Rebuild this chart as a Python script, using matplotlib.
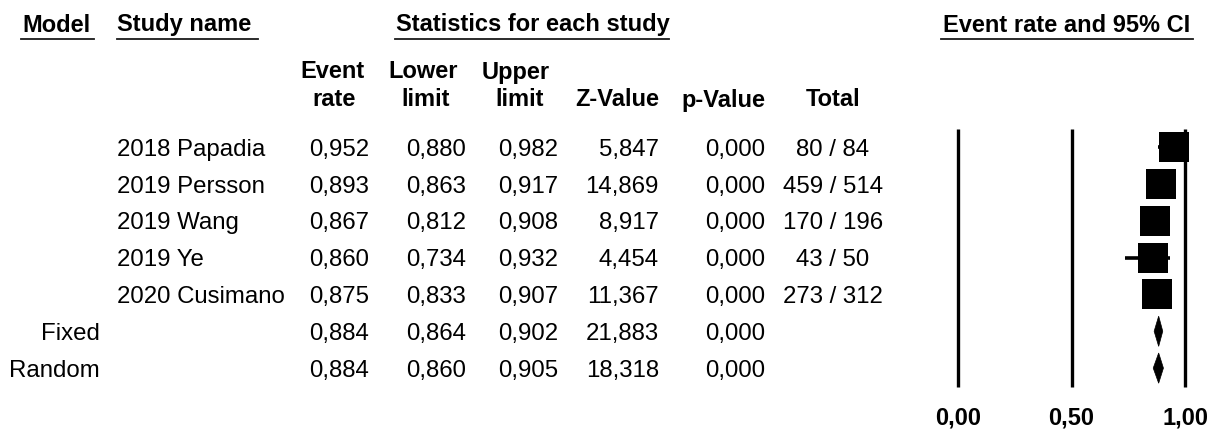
import matplotlib.pyplot as plt
from matplotlib.lines import Line2D
from matplotlib.patches import Polygon
from matplotlib.transforms import blended_transform_factory

plt.rcParams["font.family"] = ["Liberation Sans", "DejaVu Sans"]

# study level data
studies = ["2018 Papadia", "2019 Persson", "2019 Wang", "2019 Ye", "2020 Cusimano"]
event_rate = [0.952, 0.893, 0.867, 0.860, 0.875]
lower_limit = [0.880, 0.863, 0.812, 0.734, 0.833]
upper_limit = [0.982, 0.917, 0.908, 0.932, 0.907]
z_value = [5.847, 14.869, 8.917, 4.454, 11.367]
p_value = [0.000, 0.000, 0.000, 0.000, 0.000]
events = [80, 459, 170, 43, 273]
totals = [84, 514, 196, 50, 312]

# pooled estimates
models = ["Fixed", "Random"]
pooled_rate = [0.884, 0.884]
pooled_lower = [0.864, 0.860]
pooled_upper = [0.902, 0.905]
pooled_z = [21.883, 18.318]
pooled_p = [0.000, 0.000]

x_ticks = [0.0, 0.5, 1.0]

W, H = 1220, 430
FS = 17.3
FS_BOLD = 17.0
ROW0, ROW_STEP = 147.0, 36.85


def fx(x):
    return x / W


def fy(y):
    return 1 - y / H


def fmt(v, nd=3):
    return f"{v:.{nd}f}".replace(".", ",")


fig = plt.figure(figsize=(W / 100, H / 100), dpi=100)
fig.patch.set_facecolor("white")


def put(x, y, s, ha="left", bold=False):
    fig.text(fx(x), fy(y), s, ha=ha, va="baseline",
             fontsize=FS_BOLD if bold else FS,
             fontweight="bold" if bold else "normal", color="black")


def underline(x0, x1, y):
    fig.add_artist(Line2D([fx(x0), fx(x1)], [fy(y), fy(y)],
                          transform=fig.transFigure, color="#1a1a1a", lw=1.3))


# top headers
put(22, 31.5, "Model", bold=True)
put(117, 31.5, "Study name", bold=True)
put(396, 31.5, "Statistics for each study", bold=True)
put(943, 31.5, "Event rate and 95% CI", bold=True)
underline(21, 94, 38.5)
underline(117, 258, 38.5)
underline(395, 669, 38.5)
underline(941, 1193, 38.5)

# column headers
put(332, 78.5, "Event", ha="center", bold=True)
put(334, 106.5, "rate", ha="center", bold=True)
put(423, 78.5, "Lower", ha="center", bold=True)
put(426, 106.5, "limit", ha="center", bold=True)
put(516, 78.5, "Upper", ha="center", bold=True)
put(520, 106.5, "limit", ha="center", bold=True)
put(659, 106.5, "Z-Value", ha="right", bold=True)
put(765, 106.5, "p-Value", ha="right", bold=True)
put(833, 106.5, "Total", ha="center", bold=True)

# table rows
for i, name in enumerate(studies):
    yb = ROW0 + i * ROW_STEP + 8.7
    put(117, yb, name)
    put(369, yb, fmt(event_rate[i]), ha="right")
    put(466, yb, fmt(lower_limit[i]), ha="right")
    put(558, yb, fmt(upper_limit[i]), ha="right")
    put(659, yb, fmt(z_value[i]), ha="right")
    put(765, yb, fmt(p_value[i]), ha="right")
    put(833, yb, f"{events[i]} / {totals[i]}", ha="center")

for j, m in enumerate(models):
    yb = ROW0 + (len(studies) + j) * ROW_STEP + 8.7
    put(100, yb, m, ha="right")
    put(369, yb, fmt(pooled_rate[j]), ha="right")
    put(466, yb, fmt(pooled_lower[j]), ha="right")
    put(558, yb, fmt(pooled_upper[j]), ha="right")
    put(659, yb, fmt(pooled_z[j]), ha="right")
    put(765, yb, fmt(pooled_p[j]), ha="right")

# forest plot axes: x 0 -> 958px, 1 -> 1185px
x_lo, x_hi = -0.05, 1.05
scale = 227.0
left_px = 958 - (0 - x_lo) * scale
width_px = (x_hi - x_lo) * scale
n_rows = len(studies) + len(models)
top_px = ROW0 - ROW_STEP
height_px = (n_rows + 1) * ROW_STEP
ax = fig.add_axes([fx(left_px), fy(top_px + height_px), width_px / W, height_px / H])
ax.set_xlim(x_lo, x_hi)
ax.set_ylim(n_rows, -1)
ax.axis("off")

ax.vlines(x_ticks, -0.5, n_rows - 0.5, color="black", lw=2.4, zorder=1)

rows = list(range(len(studies)))
ax.hlines(rows, lower_limit, upper_limit, color="black", lw=2.6, zorder=2)
ax.plot(event_rate, rows, ls="none", marker="s", markersize=20.9,
        color="black", markeredgewidth=0, zorder=3)

for j in range(len(models)):
    r = len(studies) + j
    diamond = Polygon([(pooled_lower[j], r), (pooled_rate[j], r - 0.41),
                       (pooled_upper[j], r), (pooled_rate[j], r + 0.41)],
                      closed=True, facecolor="black", edgecolor="black", lw=0.5,
                      zorder=3)
    ax.add_patch(diamond)

trans = blended_transform_factory(ax.transData, fig.transFigure)
for t in x_ticks:
    ax.text(t, fy(425), fmt(t, 2), transform=trans, ha="center", va="baseline",
            fontsize=FS_BOLD, fontweight="bold", clip_on=False)

fig.savefig("out.png", dpi=100, facecolor="white")
